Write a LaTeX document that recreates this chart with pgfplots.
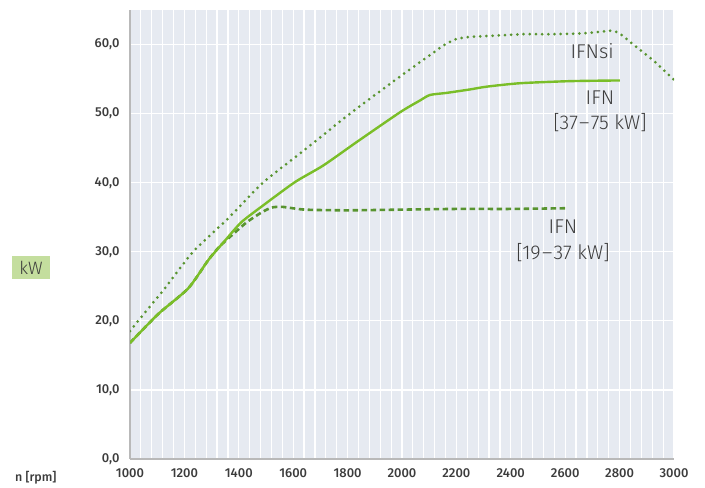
\documentclass[border=0pt]{standalone}
\usepackage{pgfplots}
\pgfplotsset{compat=1.18}
\usepackage{fontspec}
\setmainfont{Fira Sans Light}
\newfontfamily\tickfont{Fira Sans Medium}
\definecolor{bgc}{RGB}{230,234,241}
\definecolor{lgreen}{RGB}{122,190,40}
\definecolor{dgreen}{RGB}{88,148,48}
\definecolor{kwbox}{RGB}{196,222,158}
\definecolor{txt}{RGB}{60,60,60}
\definecolor{axgray}{RGB}{185,185,185}
\newcommand{\dsh}{\kern1.2bp--\kern1.2bp}
\begin{document}
\begin{tikzpicture}
\begin{axis}[
  scale only axis, width=544bp, height=449bp,
  xmin=1000, xmax=3000, ymin=0, ymax=65,
  axis background/.style={fill=bgc},
  axis x line*=bottom, axis y line*=left,
  x axis line style={draw=axgray, line width=1.5bp, -},
  y axis line style={draw=axgray, line width=2bp, -},
  xtick={1000,1200,...,3000}, minor x tick num=4,
  ytick={0,10,...,60},
  major tick length=0pt, minor tick length=0pt,
  grid=both,
  major grid style={white, line width=1.2bp},
  minor grid style={white, line width=1.2bp},
  /pgf/number format/assume math mode=true,
  tick label style={font=\tickfont\fontsize{13}{15}\selectfont, text=txt},
  y tick label style={/pgf/number format/fixed, /pgf/number format/fixed zerofill,
     /pgf/number format/precision=1, /pgf/number format/use comma, xshift=-7bp},
  x tick label style={/pgf/number format/1000 sep={}, yshift=-6bp},
]
% IFNsi (dotted)
\addplot[dgreen, line width=3bp, line cap=round, dash pattern=on 0bp off 6.2bp, smooth, tension=0.4] coordinates {
(1000,18.5) (1030,20.0) (1130,24.8) (1232,30.0) (1360,34.8) (1489,40.0) (1650,45.0)
(1809,50.0) (1980,55.0) (2100,58.4) (2158,60.0) (2200,60.8) (2250,61.1) (2350,61.3)
(2450,61.5) (2550,61.5) (2650,61.6) (2720,61.8) (2765,62.0) (2800,61.6) (2863,59.6)
(2924,57.7) (3000,54.9)};
% IFN 19-37 (dashed)
\addplot[dgreen, line width=2.6bp, dash pattern=on 5.5bp off 3.5bp, smooth, tension=0.4] coordinates {
(1000,16.8) (1104,21.0) (1214,24.7) (1288,28.8) (1330,30.8) (1386,32.8) (1430,34.3)
(1484,35.7) (1521,36.4) (1560,36.5) (1643,36.1) (1800,36.0) (2000,36.1) (2200,36.2)
(2400,36.2) (2603,36.3)};
% IFN 37-75 (solid)
\addplot[lgreen, line width=2.4bp, smooth, tension=0.4] coordinates {
(1000,16.8) (1104,21.0) (1214,24.7) (1288,28.8) (1349,31.6) (1410,34.3) (1496,36.9)
(1607,40.1) (1711,42.5) (1834,45.9) (1993,50.2) (2066,51.9) (2103,52.7) (2164,53.0)
(2250,53.5) (2311,53.9) (2434,54.4) (2618,54.7) (2801,54.8)};
\node[text=txt, font=\fontsize{20}{25}\selectfont] at (axis cs:2699,59.0) {IFNsi};
\node[text=txt, align=center, font=\fontsize{20}{25.5}\selectfont] at (axis cs:2728,50.3) {IFN\\{[}37\dsh75 kW{]}};
\node[text=txt, align=center, font=\fontsize{20}{25.5}\selectfont] at (axis cs:2592,31.6) {IFN\\{[}19\dsh37 kW{]}};
\end{axis}
\node[anchor=west, inner sep=0pt, text=txt, font=\tickfont\fontsize{12.5}{14}\selectfont]
  at ([xshift=-115bp, yshift=-19bp]current axis.south west) {n [rpm]};
\node[fill=kwbox, text=txt, minimum width=38bp, minimum height=23bp, inner sep=0pt,
  font=\fontsize{18}{20}\selectfont] at ([xshift=-99bp, yshift=191bp]current axis.south west) {kW};
\pgfresetboundingbox
\path ([xshift=-130bp,yshift=-29bp]current axis.south west) rectangle ([xshift=31bp,yshift=10bp]current axis.north east);
\end{tikzpicture}
\end{document}
